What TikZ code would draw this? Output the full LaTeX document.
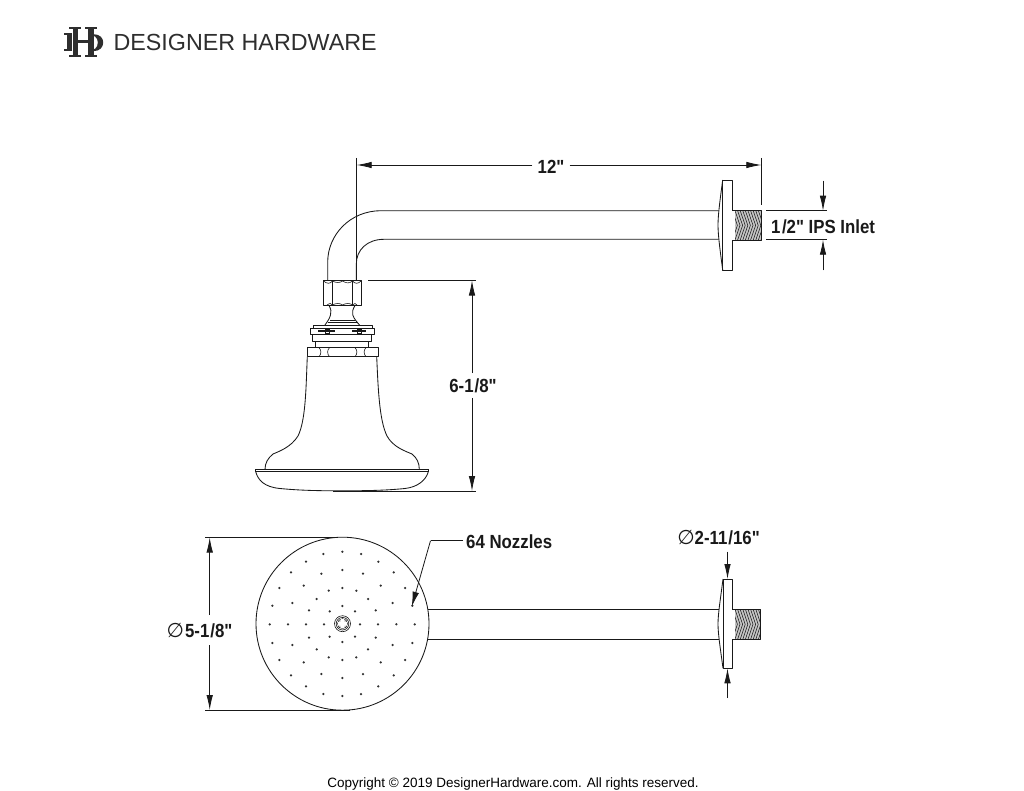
\documentclass[tikz,border=0pt]{standalone}
\usepackage{fontspec}
\setmainfont{Liberation Sans}
\newfontfamily\dej{DejaVu Sans}
\newfontfamily\lab[BoldFont={Liberation Sans Bold},BoldFeatures={FakeStretch=0.885}]{Liberation Sans}
\usetikzlibrary{arrows.meta}
\definecolor{ink}{gray}{0.1}
\tikzset{
  part/.style={draw=ink,line width=0.85pt,line join=round},
  thin part/.style={draw=ink,line width=0.6pt},
  dimline/.style={draw=ink,line width=0.8pt},
  dimarrow/.style={draw=ink,line width=0.8pt,-{Latex[length=15pt,width=6.5pt]}},
  dimlabel/.style={font=\lab\fontsize{19}{19}\selectfont\bfseries,text=ink,inner sep=0pt},
  thread/.style={draw=ink,line width=0.55pt},
  nozzle/.style={fill=ink!90,draw=none},
}
\newcommand{\threadbox}[4]{% x0 y0 x1 y1
  \fill[gray!45] (#1,#2) rectangle (#3,#4);
  \begin{scope}
    \clip (#1+2.5,#2) rectangle (#3,#4);
    \foreach \t in {-10,-7.4,...,50} {
      \draw[thread] ({#1+\t},#2) -- ({#1+\t+5},{(#2+#4)/2}) -- ({#1+\t},#4);
    }
  \end{scope}
  \fill[white] (#1+0.4,#2+0.4) rectangle (#1+2.5,#4-0.4);
  \draw[part] (#1,#2) -- (#3,#2) -- (#3,#4) -- (#1,#4);
}
\begin{document}
\begin{tikzpicture}[x=1pt,y=-1pt]
\useasboundingbox (0,0) rectangle (1024,791);
\fill[white] (0,0) rectangle (1024,791);

% logo
\begin{scope}[fill=black!82]
  \fill (69.3,27) rectangle (80.7,29.4);
  \fill (69.3,54.8) rectangle (80.7,57.2);
  \fill (73,27) rectangle (77.5,57.2);
  \fill (85,27) rectangle (96.5,29.4);
  \fill (85,54.8) rectangle (96.5,57.2);
  \fill (88.3,27) rectangle (93.5,57.2);
  \fill (73,40.2) rectangle (93.5,42.8);
  \fill (64,32.6) rectangle (72,34.6);
  \fill (64,48.6) rectangle (72,50.6);
  \fill (67.2,32.6) rectangle (71.8,50.6);
  \fill[even odd rule] (93.3,34.2) .. controls (100,34.2) and (103.2,38) .. (103.2,42.5)
     .. controls (103.2,47) and (100,51.2) .. (93.3,51.2) -- cycle
     (93.5,36.4) -- (95,36.4) .. controls (97,38) and (97.8,40) .. (97.8,42.5)
     .. controls (97.8,45) and (97,47.5) .. (95,49) -- (93.5,49) -- cycle;
\end{scope}
\node[anchor=west,inner sep=0pt,text=black!82,font=\fontsize{23.3}{23.3}\selectfont] (brand) at (113.3,42.5) {DESIGNER HARDWARE};

% side view: arm
\draw[part] (327.7,281) -- (327.7,262) .. controls (327.7,235) and (350,210.7) .. (381,210.7) -- (718.5,210.7);
\draw[part] (356.3,281) -- (356.3,264) .. controls (356.3,250) and (367,239.3) .. (384,239.3) -- (718.5,239.3);
% flange
\draw[part] (722.7,180) rectangle (732,270);
\draw[part] (722.7,180) .. controls (720,200) and (718,215) .. (718,225) .. controls (718,235) and (720,250) .. (722.7,270);
\threadbox{732}{210.7}{761.5}{240}

% nut
\draw[part] (323.5,280.5) rectangle (361,305.5);
\draw[part] (332.5,280.5) -- (332.5,305.5) (352.5,280.5) -- (352.5,305.5);
\draw[thin part] (323.5,281) .. controls (327,284) and (330,284) .. (332.5,281) .. controls (336,283) and (340,283) .. (342.5,281) .. controls (346,283) and (349,284) .. (352.5,281) .. controls (355,284) and (358,284) .. (361,281);
\draw[thin part] (327,305) .. controls (330,303) and (331,303) .. (332.5,305) .. controls (336,303) and (340,303) .. (342.5,305) .. controls (346,303) and (350,303) .. (352.5,305) .. controls (354,303) and (356,303) .. (357,305);
% neck
\draw[part] (329,305.5) .. controls (331,309) and (331.5,312) .. (330.5,315) .. controls (329.5,319) and (327,322) .. (325,325);
\draw[part] (355,305.5) .. controls (353,309) and (351.8,312) .. (352.8,315) .. controls (354,319) and (357,322) .. (359.5,325);
\draw[part] (330,320) -- (355,320) (327.5,322.3) -- (357.5,322.3);
% collar
\draw[part] (313.3,325) rectangle (372,328);
\draw[part] (310,328) rectangle (374.7,334);
\draw[part] (312.7,334) rectangle (371,341);
\draw[part] (315,341) rectangle (368.3,347.7);
\draw[line width=1.2pt,ink] (318,331) -- (335,331) (352,331) -- (366,331);
\draw[thin part] (325,329) rectangle (329,333.5) (357,329) rectangle (361,333.5);
% band
\draw[part] (307.3,347.7) rectangle (378,356.7);
\draw[thin part] (319,347.7) .. controls (321.5,350) and (321.5,354) .. (319,356.7);
\draw[thin part] (329.5,347.7) .. controls (327,350) and (327,354) .. (329.5,356.7);
\draw[thin part] (355,347.7) .. controls (357.5,350) and (357.5,354) .. (355,356.7);
\draw[thin part] (366,347.7) .. controls (363.5,350) and (363.5,354) .. (366,356.7);
% bell
\draw[part] (307.3,356.7) .. controls (306,385) and (306,420) .. (298,436) .. controls (291,447) and (280,451) .. (273,454) .. controls (268,458) and (265,463) .. (265,469.3);
\draw[part] (376.7,356.7) .. controls (378,385) and (379,420) .. (387,436) .. controls (393,447) and (405,451) .. (412,454) .. controls (417,458) and (419.3,463) .. (419.3,469.3);
% rim and bowl
\draw[part] (255.7,469.3) -- (428.3,469.3);
\draw[part] (255.7,471.7) -- (428.3,471.7);
\draw[part] (255.7,469.3) -- (255.7,471.7) (428.3,469.3) -- (428.3,471.7);
\draw[part] (255.7,471.7) .. controls (258,480) and (264,487) .. (280,488.5) .. controls (300,490.5) and (320,490.8) .. (340,490.8) .. controls (365,490.8) and (385,490.5) .. (405,488.5) .. controls (418,487) and (426,480) .. (428.3,471.7);

% dim 12"
\coordinate (a12l) at (356.7,165);
\coordinate (a12r) at (761.3,165);
\node[dimlabel] (d12) at (551,166.5) {12"};
\draw[dimline] (356.7,158) -- (356.7,281);
\draw[dimline] (761.3,158) -- (761.3,205);
\draw[dimarrow] (d12.west) ++(-5,-1.5) -- (a12l);
\draw[dimarrow] (d12.east) ++(5,-1.5) -- (a12r);

% dim 1/2
\node[dimlabel,anchor=west] (dips) at (771,226.5) {1\hspace{1.5pt}/2" IPS Inlet};
\draw[dimline] (766,210.7) -- (827,210.7) (766,239.7) -- (827,239.7);
\coordinate (ipsTop) at (823,180.7);
\coordinate (ipsTopTip) at (823,210.7);
\coordinate (ipsBot) at (823,270.5);
\coordinate (ipsBotTip) at (823,239.7);
\draw[dimarrow] (ipsTop) -- (ipsTopTip);
\draw[dimarrow] (ipsBot) -- (ipsBotTip);

% dim 6-1/8
\node[dimlabel] (d618) at (473,385.5) {6-1\hspace{1pt}/8"};
\draw[dimline] (368,280.5) -- (476,280.5);
\draw[dimline] (333,491) -- (476,491);
\coordinate (h618t) at (472,280.5);
\coordinate (h618b) at (472,491);
\draw[dimarrow] (d618.north) ++(-1,-5) -- (h618t);
\draw[dimarrow] (d618.south) ++(-1,5) -- (h618b);

% top view: head
\draw[part] (342.5,623.7) circle (86.5);
\draw[thin part] (342.5,623.7) circle (8);
\draw[thin part] (342.5,623.7) circle (6.3);
\draw[thin part,fill=gray!45] (342.5,623.7) circle (5);
\fill[white] (340.6,619) rectangle (344.4,628.4) (337.8,621.8) rectangle (347.2,625.6);
\foreach \u/\v in {220/72,277/65,333/72,168/95,385/95,123/127,214/131,277/120,339/131,431/127,88/174,161/167,392/167,465/174,236/182,277/174,319/182,200/207,354/207,67/227,127/219,428/219,487/227,177/241,239/244,277/228,315/244,377/241,59/283,114/283,168/283,222/283,330/283,384/283,439/283,494/283,177/323,239/320,315/320,377/323,277/336,67/339,127/345,428/345,487/339,200/358,354/358,236/382,277/390,319/382,88/390,161/397,392/397,465/390,123/436,214/432,277/444,339/432,431/436,168/469,385/469,220/492,277/498,333/492}
  \fill[nozzle] ({250+\u/3},{530+\v/3}) circle (1.25);

% top view: arm
\draw[part] (427.7,609.3) -- (718.5,609.3) (427.7,639.3) -- (718.5,639.3);
\draw[part] (723,579) rectangle (732,668.3);
\draw[part] (723,579) .. controls (720.3,600) and (718,614) .. (718,624) .. controls (718,634) and (720.3,648) .. (723,668.3);
\threadbox{732}{609.3}{760.7}{639.3}

% dim 64 nozzles
\node[dimlabel,anchor=west] (nz) at (466,541.5) {64 Nozzles};
\coordinate (nzk) at (430.5,540.7);
\coordinate (nzt) at (411.7,606.7);
\draw[dimline] (nz.west) ++(-3,-0.8) -- (nzk);
\draw[dimarrow] (nzk) -- (nzt);

% dim 5-1/8
\node[dimlabel] (d518) at (199.5,630.5) {{\dej\mdseries\fontsize{20}{20}\selectfont ∅}\hspace{1pt}5-1\hspace{1pt}/8"};
\draw[dimline] (205,537.5) -- (338,537.5) (205,710) -- (350,710);
\coordinate (v518t) at (209.7,537.5);
\coordinate (v518b) at (209.7,710);
\draw[dimarrow] (209.7,615) -- (v518t);
\draw[dimarrow] (209.7,645) -- (v518b);

% dim 2-11/16
\node[dimlabel] (d21116) at (718.5,538) {{\dej\mdseries\fontsize{20}{20}\selectfont ∅}2-11\hspace{1pt}/16"};
\coordinate (f1) at (727.5,551.7);
\coordinate (f1t) at (727.5,579);
\coordinate (f2) at (727.5,698);
\coordinate (f2t) at (727.5,668.3);
\draw[dimarrow] (f1) -- (f1t);
\draw[dimarrow] (f2) -- (f2t);

% copyright
\node[inner sep=0pt,text=black,font=\fontsize{13.5}{14}\selectfont] (copy) at (513,784) {Copyright © 2019 DesignerHardware.com. All rights reserved.};
\end{tikzpicture}
\end{document}
